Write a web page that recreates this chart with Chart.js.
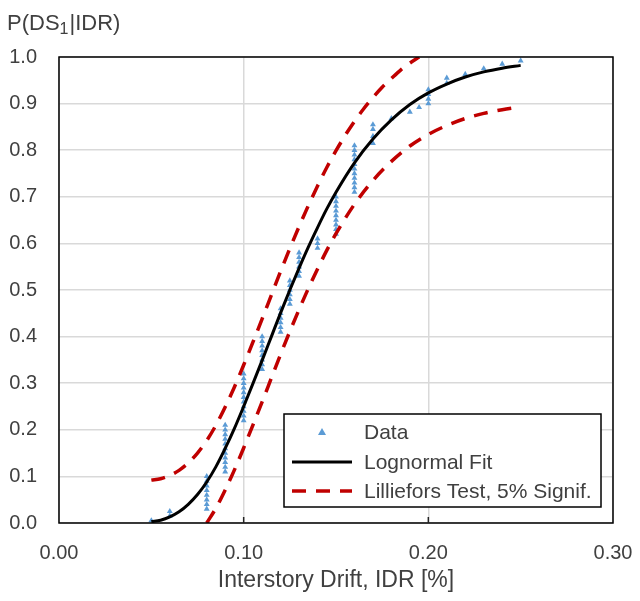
<!DOCTYPE html>
<html><head><meta charset="utf-8">
<script src="https://cdn.jsdelivr.net/npm/chart.js@4.4.1/dist/chart.umd.min.js"></script>
<style>html,body{margin:0;padding:0;background:#fff;} #wrap{width:640px;height:601px;position:relative;}</style>
</head><body><div id="wrap"><canvas id="c" width="640" height="601"></canvas></div>
<script>
// ---------- data ----------
const yTitleParts = ['P(DS', '1', '|IDR)'];
const xAxisTitle = 'Interstory Drift, IDR [%]';
const xTickValues = [0.00, 0.10, 0.20, 0.30];
const yTickValues = [0.0, 0.1, 0.2, 0.3, 0.4, 0.5, 0.6, 0.7, 0.8, 0.9, 1.0];
const seriesLabels = ['Data', 'Lognormal Fit', 'Lilliefors Test, 5% Signif.'];

// empirical data: IDR columns and their cumulative probabilities
const dataIDR = [0.05, 0.06, 0.08, 0.09, 0.10, 0.11, 0.12, 0.125, 0.13, 0.14, 0.15, 0.16, 0.17, 0.18, 0.19, 0.195, 0.20, 0.21, 0.22, 0.23, 0.24, 0.25];
const dataProb = [
  [0.005],
  [0.015, 0.025],
  [0.03, 0.04, 0.05, 0.06, 0.07, 0.08, 0.09, 0.10],
  [0.11, 0.12, 0.13, 0.14, 0.15, 0.16, 0.17, 0.18, 0.19, 0.20, 0.21],
  [0.22, 0.23, 0.24, 0.25, 0.26, 0.27, 0.28, 0.29, 0.30, 0.31, 0.32],
  [0.33, 0.34, 0.35, 0.36, 0.37, 0.38, 0.39, 0.40],
  [0.41, 0.42, 0.43, 0.44, 0.45, 0.46],
  [0.47, 0.48, 0.49, 0.50, 0.51, 0.52],
  [0.53, 0.54, 0.55, 0.56, 0.57, 0.58],
  [0.59, 0.60, 0.61],
  [0.62, 0.63, 0.64, 0.65, 0.66, 0.67, 0.68, 0.69, 0.70],
  [0.71, 0.72, 0.73, 0.74, 0.75, 0.76, 0.77, 0.78, 0.79, 0.80, 0.81],
  [0.815, 0.83, 0.845, 0.855],
  [0.868],
  [0.882],
  [0.892],
  [0.90, 0.91, 0.92, 0.93],
  [0.944, 0.955],
  [0.963],
  [0.975],
  [0.985],
  [0.992]
];

// lognormal fit curve
const fitX = [0.05, 0.055, 0.06, 0.065, 0.07, 0.075, 0.08, 0.085, 0.09, 0.095, 0.10, 0.105, 0.11, 0.115, 0.12, 0.125, 0.13, 0.135, 0.14, 0.145, 0.15, 0.16, 0.17, 0.18, 0.19, 0.20, 0.21, 0.22, 0.23, 0.24, 0.25];
const fitY = [0.003, 0.006, 0.013, 0.024, 0.040, 0.061, 0.088, 0.121, 0.160, 0.203, 0.250, 0.299, 0.349, 0.400, 0.451, 0.500, 0.547, 0.592, 0.634, 0.674, 0.710, 0.773, 0.824, 0.865, 0.898, 0.923, 0.942, 0.957, 0.968, 0.976, 0.982];

// Lilliefors upper bound
const upperX = [0.05, 0.055, 0.06, 0.065, 0.07, 0.075, 0.08, 0.085, 0.09, 0.095, 0.10, 0.105, 0.11, 0.115, 0.12, 0.125, 0.13, 0.135, 0.14, 0.145, 0.15, 0.155, 0.16, 0.165, 0.17, 0.175, 0.18, 0.185, 0.19, 0.195];
const upperY = [0.092, 0.095, 0.102, 0.113, 0.129, 0.150, 0.177, 0.210, 0.249, 0.292, 0.339, 0.388, 0.438, 0.489, 0.540, 0.589, 0.636, 0.681, 0.723, 0.763, 0.799, 0.832, 0.862, 0.889, 0.913, 0.935, 0.954, 0.972, 0.987, 1.000];

// Lilliefors lower bound
const lowerX = [0.08, 0.085, 0.09, 0.095, 0.10, 0.105, 0.11, 0.115, 0.12, 0.125, 0.13, 0.135, 0.14, 0.145, 0.15, 0.16, 0.17, 0.18, 0.19, 0.20, 0.21, 0.22, 0.23, 0.24, 0.25];
const lowerY = [0.000, 0.032, 0.071, 0.114, 0.161, 0.210, 0.260, 0.311, 0.362, 0.411, 0.458, 0.503, 0.545, 0.585, 0.621, 0.684, 0.735, 0.776, 0.809, 0.834, 0.853, 0.868, 0.879, 0.887, 0.893];

// ---------- build chart ----------
const pts = (xs, ys) => xs.map((x, i) => ({x: x, y: ys[i]}));
const scatterPts = [];
dataIDR.forEach((x, i) => dataProb[i].forEach(p => scatterPts.push({x: x, y: p})));

const FONT = "'Liberation Sans', Arial, sans-serif";
const TXT = '#404040';
const RED = '#C00000';
const BLUE = '#5B9BD5';

const frame = {
  id: 'frame',
  afterDatasetsDraw(chart) {
    const {ctx, chartArea: a, scales} = chart;
    ctx.save();
    ctx.strokeStyle = '#000';
    ctx.lineWidth = 1.5;
    ctx.strokeRect(a.left, a.top, a.right - a.left, a.bottom - a.top);
    ctx.strokeStyle = '#222';
    ctx.lineWidth = 1.5;
    scales.x.ticks.forEach(t => {
      const px = scales.x.getPixelForValue(t.value);
      if (px > a.left + 2 && px < a.right - 2) {
        ctx.beginPath(); ctx.moveTo(px, a.bottom); ctx.lineTo(px, a.bottom - 6); ctx.stroke();
      }
    });
    ctx.restore();
  },
  afterDraw(chart) {
    const ctx = chart.ctx;
    ctx.save();
    ctx.fillStyle = TXT;
    ctx.textBaseline = 'alphabetic';
    ctx.textAlign = 'left';
    let x = 7, base = 30;
    ctx.font = '22px ' + FONT;
    ctx.fillText(yTitleParts[0], x, base); x += ctx.measureText(yTitleParts[0]).width;
    ctx.font = '16px ' + FONT;
    ctx.fillText(yTitleParts[1], x, base + 4); x += ctx.measureText(yTitleParts[1]).width + 1;
    ctx.font = '22px ' + FONT;
    ctx.fillText(yTitleParts[2], x, base);

    const lx = 284, ly = 414, lw = 317, lh = 93;
    ctx.fillStyle = '#fff';
    ctx.fillRect(lx, ly, lw, lh);
    ctx.strokeStyle = '#000';
    ctx.lineWidth = 1.5;
    ctx.strokeRect(lx, ly, lw, lh);
    const rows = [432, 462, 491];
    const ds = chart.data.datasets;
    ctx.font = '21px ' + FONT;
    ctx.textBaseline = 'middle';
    ctx.fillStyle = ds[0].backgroundColor;
    ctx.beginPath();
    ctx.moveTo(322, rows[0] - 4); ctx.lineTo(326, rows[0] + 3); ctx.lineTo(318, rows[0] + 3); ctx.closePath(); ctx.fill();
    ctx.strokeStyle = ds[1].borderColor; ctx.lineWidth = ds[1].borderWidth;
    ctx.beginPath(); ctx.moveTo(292, rows[1]); ctx.lineTo(352, rows[1]); ctx.stroke();
    ctx.strokeStyle = ds[2].borderColor; ctx.lineWidth = ds[2].borderWidth;
    ctx.setLineDash([14, 10]);
    ctx.beginPath(); ctx.moveTo(292, rows[2]); ctx.lineTo(352, rows[2]); ctx.stroke();
    ctx.setLineDash([]);
    ctx.fillStyle = TXT;
    [0, 1, 2].forEach(i => ctx.fillText(ds[i].label, 364, rows[i] + 1));
    ctx.restore();
  }
};

new Chart(document.getElementById('c'), {
  type: 'scatter',
  data: {
    datasets: [
      { label: seriesLabels[0], data: scatterPts, showLine: false, pointStyle: 'triangle', pointRadius: 3.4,
        backgroundColor: BLUE, borderColor: BLUE, borderWidth: 0, order: 3 },
      { label: seriesLabels[1], data: pts(fitX, fitY), type: 'line', showLine: true, borderColor: '#000',
        borderWidth: 3, pointRadius: 0, cubicInterpolationMode: 'monotone', fill: false, order: 1 },
      { label: seriesLabels[2], data: pts(upperX, upperY), type: 'line', showLine: true, borderColor: RED,
        borderWidth: 3.5, borderDash: [14, 10], pointRadius: 0, cubicInterpolationMode: 'monotone', fill: false, order: 2 },
      { label: '', data: pts(lowerX, lowerY), type: 'line', showLine: true, borderColor: RED,
        borderWidth: 3.5, borderDash: [14, 10], pointRadius: 0, cubicInterpolationMode: 'monotone', fill: false, order: 2 }
    ]
  },
  options: {
    responsive: false,
    devicePixelRatio: 1,
    animation: false,
    layout: { padding: { top: 57, right: 27, bottom: 0, left: 0 } },
    plugins: { legend: { display: false }, tooltip: { enabled: false }, title: { display: false } },
    scales: {
      x: {
        type: 'linear', min: 0, max: 0.3,
        afterBuildTicks: s => { s.ticks = xTickValues.map(v => ({value: v})); },
        afterFit: s => { s.height = 78; s.paddingLeft = 0; s.paddingRight = 0; },
        ticks: { padding: 18, color: TXT, font: { family: FONT, size: 20 }, callback: v => v.toFixed(2), maxRotation: 0 },
        grid: { color: '#d9d9d9', lineWidth: 1.5, drawTicks: false },
        border: { display: false },
        title: { display: true, text: xAxisTitle, color: TXT, font: { family: FONT, size: 23 }, padding: { top: 7, bottom: 7 } }
      },
      y: {
        type: 'linear', min: 0, max: 1,
        afterBuildTicks: s => { s.ticks = yTickValues.map(v => ({value: v})); },
        afterFit: s => { s.width = 59; s.paddingTop = 0; s.paddingBottom = 0; },
        ticks: { padding: 22, color: TXT, font: { family: FONT, size: 20 }, callback: v => v.toFixed(1) },
        grid: { color: '#d9d9d9', lineWidth: 1.5, drawTicks: false },
        border: { display: false }
      }
    }
  },
  plugins: [frame]
});
</script>
</body></html>
